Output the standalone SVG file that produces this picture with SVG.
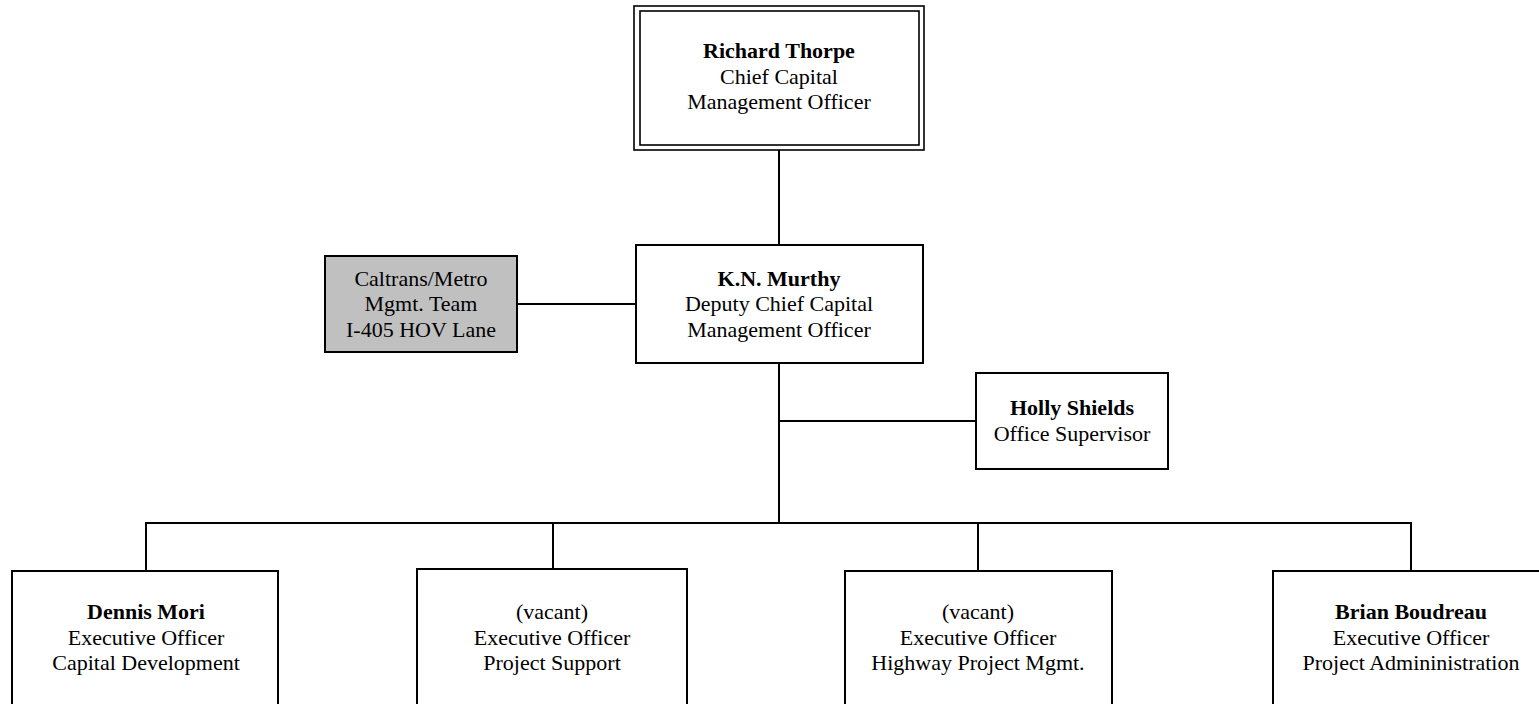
<svg xmlns="http://www.w3.org/2000/svg" width="1539" height="704" viewBox="0 0 1539 704">
<style>
.box{fill:#fff;stroke:#000;stroke-width:2}
.gray{fill:#c0c0c0;stroke:#000;stroke-width:2}
.dbl{fill:none;stroke:#000;stroke-width:1.6}
.conn{fill:none;stroke:#000;stroke-width:2}
text{font-family:"Liberation Serif","Times New Roman",serif;font-size:22px;fill:#000;text-anchor:middle}
.b{font-weight:bold}
</style>
<rect width="1539" height="704" fill="#fff"/>
<g id="connectors">
<line class="conn" x1="779" y1="150" x2="779" y2="245"/>
<line class="conn" x1="517" y1="304" x2="636" y2="304"/>
<line class="conn" x1="779" y1="364" x2="779" y2="523"/>
<line class="conn" x1="779" y1="421" x2="976" y2="421"/>
<polyline class="conn" points="146,571 146,523 1411,523 1411,571"/>
<line class="conn" x1="553" y1="523" x2="553" y2="569"/>
<line class="conn" x1="978" y1="523" x2="978" y2="571"/>
</g>
<g id="richard-thorpe">
<rect class="dbl" x="634" y="6" width="290" height="144"/>
<rect class="dbl" x="640" y="11" width="279" height="134"/>
<text x="779" y="58" class="b">Richard Thorpe</text>
<text x="779" y="84">Chief Capital</text>
<text x="779" y="109">Management Officer</text>
</g>
<g id="caltrans-metro">
<rect class="gray" x="325" y="256" width="192" height="96"/>
<text x="421" y="286">Caltrans/Metro</text>
<text x="421" y="311">Mgmt. Team</text>
<text x="421" y="337">I-405 HOV Lane</text>
</g>
<g id="kn-murthy">
<rect class="box" x="636" y="245" width="287" height="118"/>
<text x="779" y="286" class="b">K.N. Murthy</text>
<text x="779" y="311">Deputy Chief Capital</text>
<text x="779" y="337">Management Officer</text>
</g>
<g id="holly-shields">
<rect class="box" x="976" y="373" width="192" height="96"/>
<text x="1072" y="415" class="b">Holly Shields</text>
<text x="1072" y="441">Office Supervisor</text>
</g>
<g id="dennis-mori">
<rect class="box" x="12" y="571" width="266" height="140"/>
<text x="146" y="619" class="b">Dennis Mori</text>
<text x="146" y="645">Executive Officer</text>
<text x="146" y="670">Capital Development</text>
</g>
<g id="vacant-project-support">
<rect class="box" x="417" y="569" width="270" height="142"/>
<text x="552" y="619">(vacant)</text>
<text x="552" y="645">Executive Officer</text>
<text x="552" y="670">Project Support</text>
</g>
<g id="vacant-highway">
<rect class="box" x="845" y="571" width="267" height="140"/>
<text x="978" y="619">(vacant)</text>
<text x="978" y="645">Executive Officer</text>
<text x="978" y="670">Highway Project Mgmt.</text>
</g>
<g id="brian-boudreau">
<rect class="box" x="1273" y="571" width="276" height="140"/>
<text x="1411" y="619" class="b">Brian Boudreau</text>
<text x="1411" y="645">Executive Officer</text>
<text x="1411" y="670">Project Admininistration</text>
</g>
</svg>
